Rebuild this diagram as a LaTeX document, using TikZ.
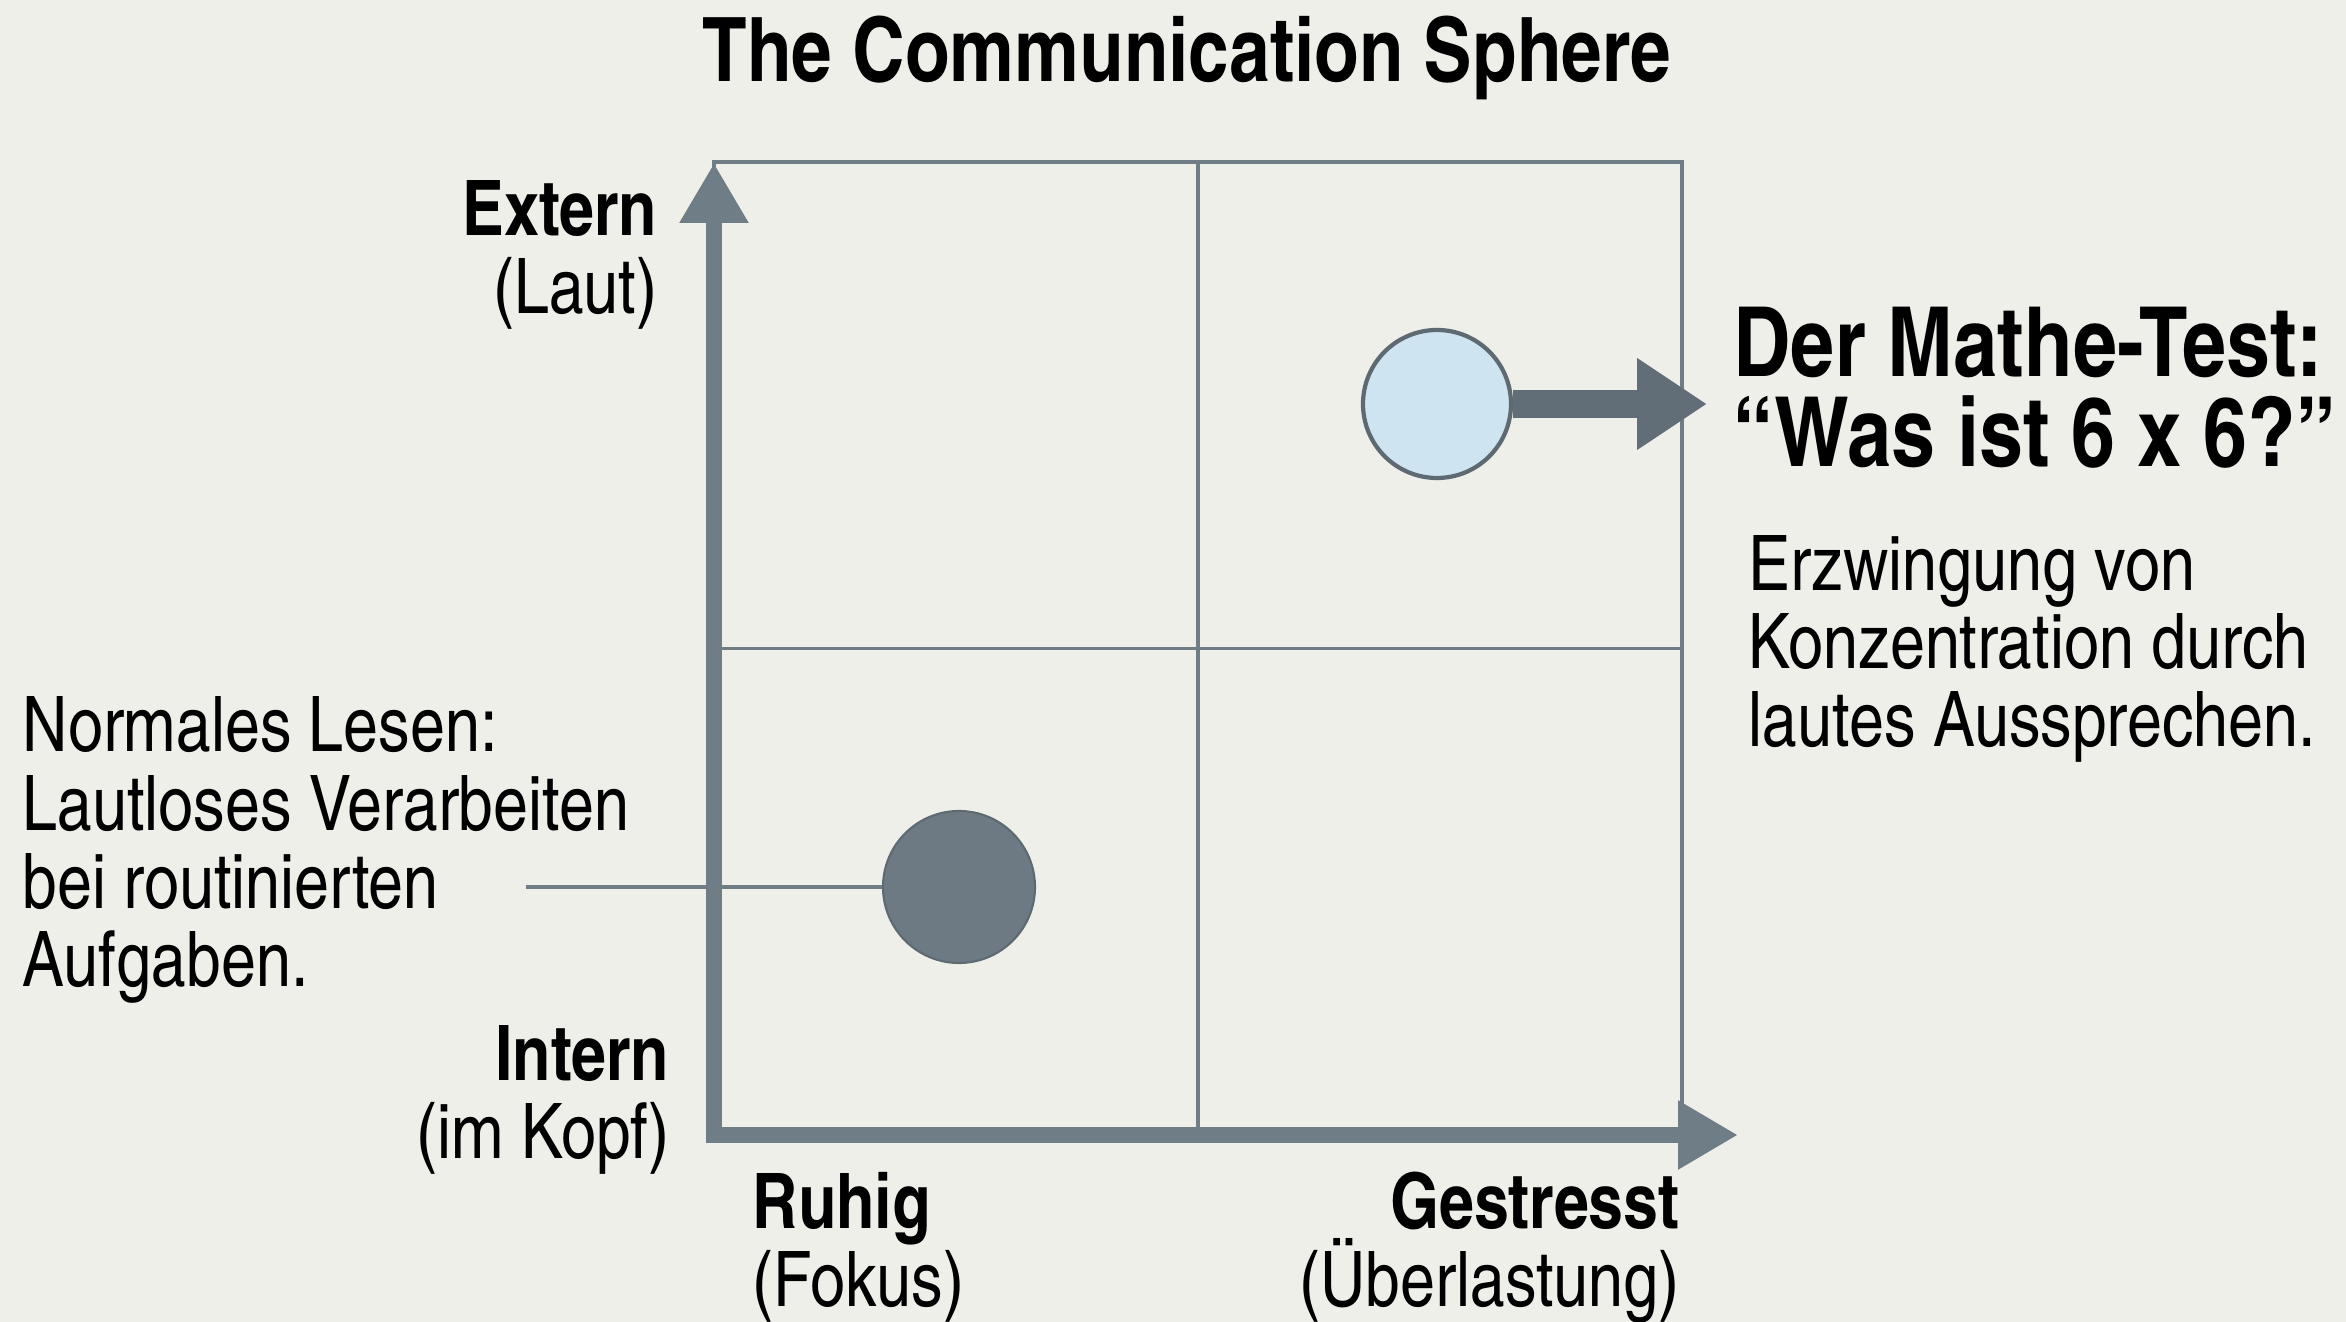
\documentclass[tikz,border=0pt]{standalone}
\usepackage{fontspec}
\setmainfont{texgyreheroscn}[Extension=.otf,UprightFont=*-regular,BoldFont=*-bold]
\usetikzlibrary{arrows.meta}
\definecolor{bgpaper}{RGB}{239,239,234}
\definecolor{axisgray}{RGB}{111,125,135}
\definecolor{arrowgray}{RGB}{98,110,119}
\definecolor{dotdark}{RGB}{109,122,132}
\definecolor{dotline}{RGB}{94,106,114}
\definecolor{dotlight}{RGB}{207,228,241}

\begin{document}
\begin{tikzpicture}

    \tikzset{labelfont/.style={font=\fontsize{21.8}{22.3}\selectfont, inner sep=0pt},
        headfont/.style={font=\fontsize{27.5}{25.8}\selectfont\bfseries, inner sep=0pt},
        axisline/.style={line width=4.5pt, draw=axisgray,
            {Triangle[length=0.6cm,width=0.65cm]}-{Triangle[length=0.6cm,width=0.65cm]}},
        gridline/.style={line width=1pt, draw=axisgray},
        dotstyle/.style={draw, shape=circle, inner sep=0pt}}

    \fill[bgpaper] (0,0) rectangle (23.46,13.22);
    \useasboundingbox (0,0) rectangle (23.46,13.22);

    \node[font=\fontsize{25.3}{28}\selectfont\bfseries, inner sep=0pt, anchor=base] (title) at (11.87,12.40) {The Communication Sphere};

    \coordinate (origin) at (7.14,1.87);
    \coordinate (ytip) at (7.14,11.59);
    \coordinate (xtip) at (17.38,1.87);
    \coordinate (boxtop) at (16.82,11.60);

    \draw[gridline] (origin) rectangle (boxtop);
    \draw[gridline] (11.98,1.87) -- (11.98,11.60);
    \draw[gridline] (7.14,6.735) -- (16.82,6.735);
    \draw[axisline] (ytip) -- (origin) -- (xtip);

    \node[labelfont, anchor=base east, align=right] (extern) at (6.58,10.08) {\textbf{Extern}\\(Laut)};
    \node[labelfont, anchor=base east, align=right] (intern) at (6.70,1.63) {\textbf{Intern}\\(im Kopf)};
    \node[labelfont, anchor=base west, align=left] (ruhig) at (7.52,0.15) {\textbf{Ruhig}\\(Fokus)};
    \node[labelfont, anchor=base east, align=right] (gestresst) at (16.80,0.15) {\textbf{Gestresst}\\(Überlastung)};

    \node[dotstyle, draw=dotline, line width=1.2pt, fill=dotlight, minimum size=1.48cm] (mathe) at (14.37,9.18) {};
    \node[dotstyle, draw=dotline, line width=0.6pt, fill=dotdark, minimum size=1.52cm] (lesen) at (9.59,4.35) {};

    \coordinate (mathetip) at (17.07,9.18);
    \coordinate (lesenend) at (5.26,4.35);

    \draw[line width=8pt, arrowgray, -{Triangle[length=0.7cm,width=0.87cm]}] (mathe) -- (mathetip);
    \draw[gridline] (lesenend) -- (lesen);

    \node[headfont, anchor=base west, align=left] (mathetext) at (17.33,8.55) {Der Mathe-Test:\\“Was ist 6 x 6?”};
    \node[labelfont, anchor=base west, align=left] (mathenote) at (17.48,5.75) {Erzwingung von\\Konzentration durch\\lautes Aussprechen.};
    \node[labelfont, anchor=base west, align=left] (lesennote) at (0.22,3.35) {Normales Lesen:\\Lautloses Verarbeiten\\bei routinierten\\Aufgaben.};

\end{tikzpicture}
\end{document}
